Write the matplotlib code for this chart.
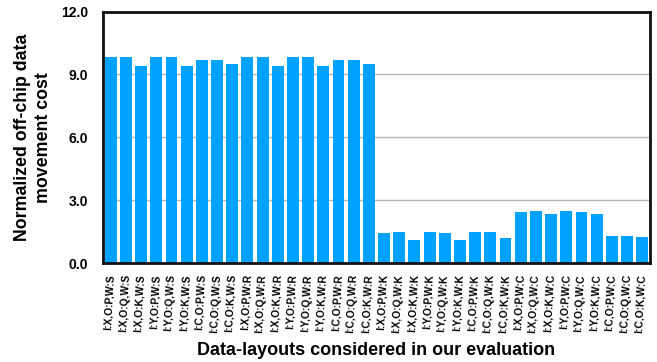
import matplotlib
matplotlib.use("Agg")
import matplotlib.pyplot as plt
import numpy as np

plt.rcParams['font.family'] = ['Liberation Sans', 'DejaVu Sans']

# Layout labels: input / output layouts crossed with weight layouts
weight_layouts = ["S", "R", "K", "C"]
io_layouts = ["I:X,O:P", "I:X,O:Q", "I:X,O:K",
              "I:Y,O:P", "I:Y,O:Q", "I:Y,O:K",
              "I:C,O:P", "I:C,O:Q", "I:C,O:K"]
labels = [f"{io},W:{w}" for w in weight_layouts for io in io_layouts]

cost_w_s = [9.82, 9.85, 9.41, 9.85, 9.82, 9.41, 9.70, 9.70, 9.51]
cost_w_r = [9.82, 9.85, 9.41, 9.85, 9.82, 9.41, 9.70, 9.70, 9.51]
cost_w_k = [1.43, 1.48, 1.10, 1.48, 1.43, 1.10, 1.48, 1.48, 1.19]
cost_w_c = [2.43, 2.48, 2.34, 2.48, 2.43, 2.34, 1.29, 1.29, 1.24]
costs = cost_w_s + cost_w_r + cost_w_k + cost_w_c

yticks = [0.0, 3.0, 6.0, 9.0, 12.0]

fig = plt.figure(figsize=(6.57, 3.62), dpi=100)
ax = fig.add_axes([0.157, 0.273, 0.832, 0.695])

x = np.arange(len(labels))
ax.bar(x, costs, width=0.78, color="#00A2FF", zorder=2)

ax.set_xlim(-0.5, len(labels) - 0.5)
ax.set_ylim(0, 12)
ax.set_yticks(yticks)
ax.set_yticklabels([f"{v:.1f}" for v in yticks], fontsize=10, fontweight="bold")
ax.yaxis.grid(True, color="#b5b5b5", linewidth=1.0, zorder=0)
ax.set_axisbelow(True)

ax.set_xticks(x)
ax.set_xticklabels(labels, rotation=87, fontsize=7.4, fontweight="bold",
                   ha="right", va="center", rotation_mode="anchor")
ax.tick_params(axis="both", length=0)
ax.tick_params(axis="x", pad=8)
ax.tick_params(axis="y", pad=11)

for side in ["left", "right", "top", "bottom"]:
    ax.spines[side].set_linewidth(2.0)
    ax.spines[side].set_color("#111111")

ax.set_ylabel("Normalized off-chip data\nmovement cost", fontsize=12.8,
              fontweight="bold", labelpad=6, linespacing=1.35)
ax.set_xlabel("Data-layouts considered in our evaluation", fontsize=13,
              fontweight="bold", labelpad=6)

fig.savefig("out.png", dpi=100)
